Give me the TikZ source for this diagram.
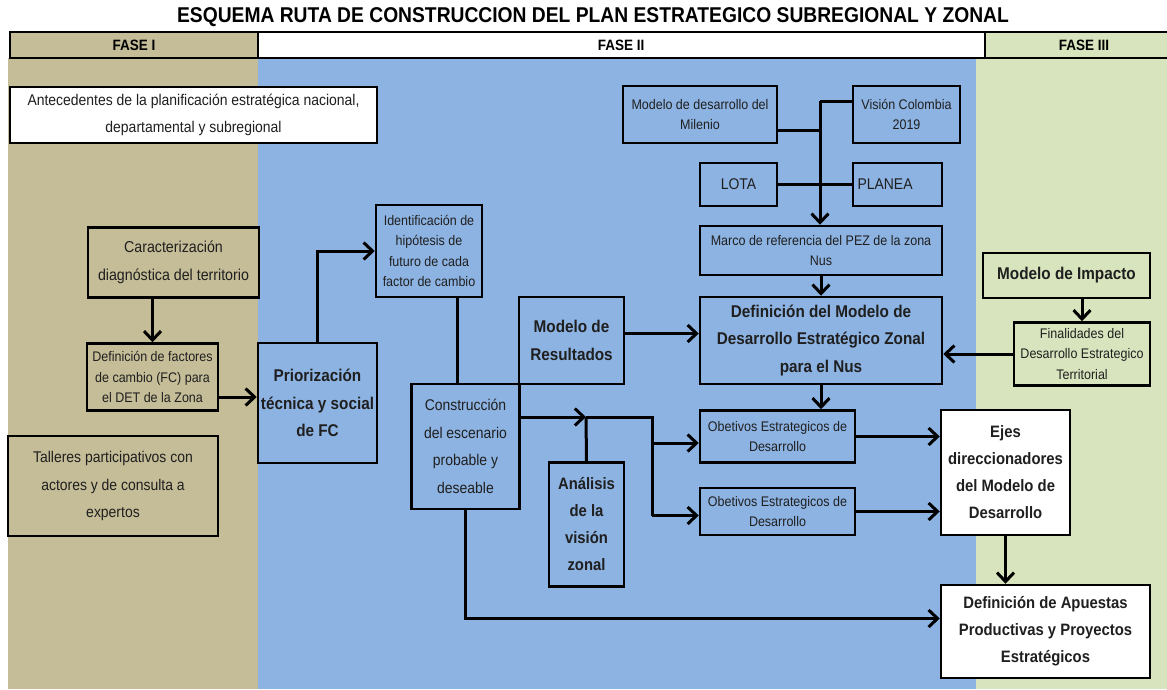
\documentclass[tikz,border=0pt]{standalone}
\usepackage{fontspec}
\setmainfont{Liberation Sans}[FakeStretch=0.9]
\usetikzlibrary{arrows.meta}
\definecolor{fasetan}{HTML}{C4BD97}
\definecolor{faseblue}{HTML}{8DB3E2}
\definecolor{fasegreen}{HTML}{D7E4BD}
\begin{document}
\begin{tikzpicture}[x=1pt,y=-1pt,
  box/.style={draw=black, line width=2.5pt, inner sep=0pt, align=center, text=black!88},
  conn/.style={line width=3pt},
  arr/.style={line width=3pt, -{Straight Barb[length=9pt,width=17pt]}},
  fN/.style={font=\fontsize{15.5}{27.5}\selectfont},
  fS/.style={font=\fontsize{13.9}{20.5}\selectfont},
  fB/.style={font=\bfseries\fontsize{17}{27.5}\selectfont},
  fBs/.style={font=\bfseries\fontsize{16.5}{27}\selectfont},
]
\useasboundingbox (0,0) rectangle (1167,689);
% backgrounds
\fill[white] (0,0) rectangle (1167,689);
\fill[fasetan] (8,58) rectangle (258,689);
\fill[faseblue] (258,58) rectangle (976,689);
\fill[fasegreen] (976,58) rectangle (1167,689);
% header
\fill[fasetan] (10,32) rectangle (258,58);
\fill[white] (258,32) rectangle (985,58);
\fill[fasegreen] (985,32) rectangle (1167,58);
\draw[line width=2.5pt] (1167,32) -- (10,32) -- (10,58) -- (1167,58);
\draw[line width=2pt] (258,32) -- (258,58);
\draw[line width=2pt] (985,32) -- (985,58);
\node[font=\bfseries\fontsize{15}{17}\selectfont] (f1) at (134,45) {FASE I};
\node[font=\bfseries\fontsize{15}{17}\selectfont] (f2) at (621,45) {FASE II};
\node[font=\bfseries\fontsize{15}{17}\selectfont] (f3) at (1084,45) {FASE III};
\node[font=\bfseries\fontsize{21.4}{23}\selectfont] (title) at (593,17) {ESQUEMA RUTA DE CONSTRUCCION DEL PLAN ESTRATEGICO SUBREGIONAL Y ZONAL};

% boxes
\node[box, fN, fill=white, minimum width=367, minimum height=56] (ante) at (193.5,115) {Antecedentes de la planificación estratégica nacional,\\departamental y subregional};
\node[box, font=\fontsize{15.8}{28}\selectfont, fill=fasetan, minimum width=171, minimum height=70] (car) at (173.5,262.5) {Caracterización\\diagnóstica del territorio};
\node[box, fS, fill=fasetan, minimum width=131, minimum height=67] (deff) at (152.5,377) {Definición de factores\\de cambio (FC) para\\el DET de la Zona};
\node[box, fN, fill=fasetan, minimum width=210, minimum height=100] (tall) at (113,486) {Talleres participativos con\\actores y de consulta a\\expertos};
\node[box, fB, fill=faseblue, minimum width=119, minimum height=120] (prio) at (317.5,403) {Priorización\\técnica y social\\de FC};
\node[box, fS, fill=faseblue, minimum width=106, minimum height=92] (iden) at (429,251) {Identificación de\\hipótesis de\\futuro de cada\\factor de cambio};
\node[box, fN, fill=faseblue, minimum width=108, minimum height=125] (cons) at (465.5,446.5) {Construcción\\del escenario\\probable y\\deseable};
\node[box, fB, fill=faseblue, minimum width=105, minimum height=87] (mres) at (571.5,340.5) {Modelo de\\Resultados};
\node[box, fBs, fill=faseblue, minimum width=75, minimum height=124] (anal) at (586.5,524.5) {Análisis\\de la\\visión\\zonal};
\node[box, fS, fill=faseblue, minimum width=154, minimum height=57] (mil) at (700,114.5) {Modelo de desarrollo del\\Milenio};
\node[box, fS, fill=faseblue, minimum width=107, minimum height=57] (vis) at (906.5,114.5) {Visión Colombia\\2019};
\node[box, fN, fill=faseblue, minimum width=77, minimum height=43] (lota) at (738.5,184.5) {LOTA};
\node[box, fN, fill=faseblue, minimum width=89, minimum height=43, text width=80, align=left] (plan) at (897.5,184.5) {PLANEA};
\node[box, fS, fill=faseblue, minimum width=242, minimum height=49] (marco) at (821,250.5) {Marco de referencia del PEZ de la zona\\Nus};
\node[box, fB, fill=faseblue, minimum width=242, minimum height=87] (dmod) at (821,340.5) {Definición del Modelo de\\Desarrollo Estratégico Zonal\\para el Nus};
\node[box, fB, fill=fasegreen, minimum width=167, minimum height=45] (mimp) at (1066.5,275.5) {Modelo de Impacto};
\node[box, fS, fill=fasegreen, minimum width=136, minimum height=63] (fin) at (1082,354) {Finalidades del\\Desarrollo Estrategico\\Territorial};
\node[box, fS, fill=faseblue, minimum width=155, minimum height=52] (ob1) at (777.5,436.5) {Obetivos Estrategicos de\\Desarrollo};
\node[box, fS, fill=faseblue, minimum width=155, minimum height=47] (ob2) at (777.5,511.5) {Obetivos Estrategicos de\\Desarrollo};
\node[box, fBs, fill=white, minimum width=129, minimum height=125] (ejes) at (1005.5,472.5) {Ejes\\direccionadores\\del Modelo de\\Desarrollo};
\node[box, fBs, fill=white, minimum width=209, minimum height=93] (apu) at (1045.5,631.5) {Definición de Apuestas\\Productivas y Proyectos\\Estratégicos};

% helper coordinates
\coordinate (T) at (820,101);
\coordinate (M) at (820,130);
\coordinate (J) at (586,417);
\coordinate (K) at (652,417);
\coordinate (dA) at ([yshift=-20pt]deff.east);
\coordinate (iA) at ([xshift=28pt]iden.south);
\coordinate (o1) at ([yshift=-6.5pt]ob1.west);
\coordinate (o2) at ([yshift=-4pt]ob2.west);
\coordinate (ap) at ([yshift=13pt]apu.west);

% connectors
\draw[arr] (car.south -| deff.north) -- (deff.north);
\draw[arr] (dA) -- (prio.west |- dA);
\draw[arr] (prio.north) |- (iden.west);
\draw[conn] (iA) -- (cons.north -| iA);
\draw[arr] ([yshift=7pt]mres.east) -- ([yshift=7pt]dmod.west);
\draw[arr] (cons.east |- J) -- (J);
\draw[conn] (anal.north) -- (J);
\draw[conn] (J) -- (K) -- (K |- o2);
\draw[arr] (K |- o1) -- (o1);
\draw[arr] (K |- o2) -- (o2);
\draw[arr] (ob1.east) -- (ejes.west |- ob1.east);
\draw[arr] (ob2.east) -- (ejes.west |- ob2.east);
\draw[arr] (ejes.south) -- (apu.north -| ejes.south);
\draw[arr] (cons.south) |- (ap);
\draw[arr] (dmod.south) -- (ob1.north -| dmod.south);
\draw[arr] (marco.south) -- (dmod.north);
\draw[conn] (vis.west |- T) -- (T);
\draw[arr] (T) -- (marco.north -| T);
\draw[conn] (mil.east |- M) -- (M);
\draw[conn] (lota.east) -- (plan.west);
\draw[arr] (fin.north |- mimp.south) -- (fin.north);
\draw[arr] (fin.west) -- (dmod.east |- fin.west);
\end{tikzpicture}
\end{document}
